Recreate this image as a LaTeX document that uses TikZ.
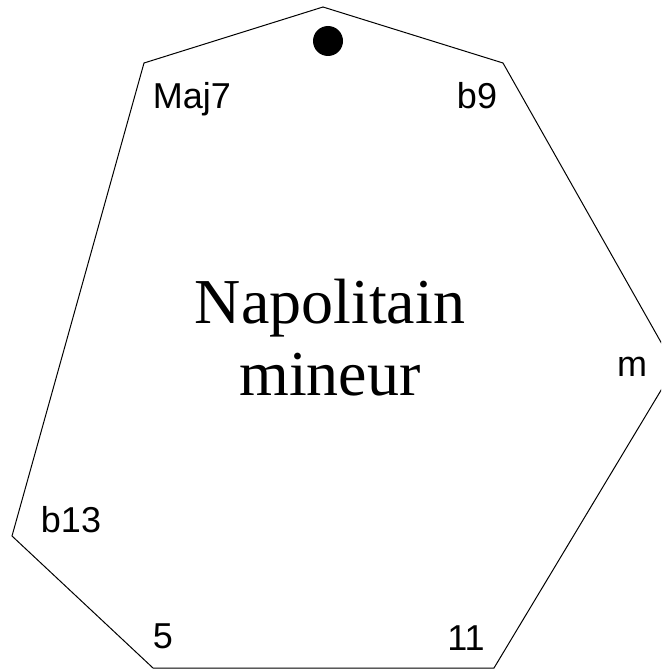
\documentclass[tikz,border=0pt]{standalone}
\usepackage{fontspec}
\setmainfont{Liberation Serif}
\newfontfamily\labelfont{Liberation Sans}
\begin{document}
\begin{tikzpicture}[x=1pt,y=-1pt,
  deg/.style={font=\labelfont\fontsize{36}{42}\selectfont, anchor=base, inner sep=0pt},
  title/.style={font=\fontsize{64}{72}\selectfont, anchor=base, inner sep=0pt}]
\useasboundingbox (0,0) rectangle (661,669);
\clip (0,0) rectangle (661,669);
\coordinate (p1) at (323,7);
\coordinate (p2) at (503,63);
\coordinate (p3) at (675,367);
\coordinate (p4) at (494,668);
\coordinate (p5) at (153,668);
\coordinate (p6) at (12,536);
\coordinate (p7) at (144,63);
\draw[line width=1pt, line join=miter] (p1) -- (p2) -- (p3) -- (p4) -- (p5) -- (p6) -- (p7) -- cycle;
\fill (328,41) circle (15);
\node[deg] (maj7) at (192,108) {Maj7};
\node[deg] (b9) at (477,108) {b9};
\node[deg] (m) at (632,376) {m};
\node[deg] (b13) at (71,532) {b13};
\node[deg] (five) at (163,648) {5};
\node[deg] (eleven) at (466,650) {11};
\node[title] (t1) at (330,323) {Napolitain};
\node[title] (t2) at (330,395) {mineur};
\end{tikzpicture}
\end{document}
